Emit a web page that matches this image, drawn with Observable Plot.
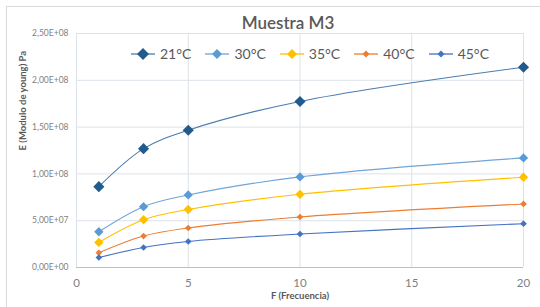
<!DOCTYPE html>
<html>
<head>
<meta charset="utf-8">
<script src="https://cdn.jsdelivr.net/npm/d3@7"></script>
<script src="https://cdn.jsdelivr.net/npm/@observablehq/plot@0.6"></script>
<style>
  html, body { margin: 0; padding: 0; background: #fff; }
  #wrap { position: relative; width: 540px; height: 307px; overflow: hidden; font-family: Lato, "Open Sans", sans-serif; }
  #frame { position: absolute; left: 6px; top: 6px; width: 540px; height: 310px; border: 1px solid #d9d9d9; box-sizing: border-box; }
  #title { position: absolute; top: 12px; left: 0; width: 576px; text-align: center; font-size: 17px; font-weight: 600; color: #595959; }
  #legend { position: absolute; top: 45px; left: 131px; display: flex; align-items: center; font-size: 14px; color: #595959; }
  #legend .item { display: flex; align-items: center; margin-right: 14px; }
  #legend svg { margin-right: 5px; }
  #chart { position: absolute; left: 0; top: 0; }
</style>
</head>
<body>
<div id="wrap">
  <div id="frame"></div>
  <div id="chart"></div>
  <div id="title">Muestra M3</div>
  <div id="legend"></div>
</div>
<script>
const frequencies = [1, 3, 5, 10, 20];
const seriesNames = ["21°C", "30°C", "35°C", "40°C", "45°C"];
const s21 = [8.64e7, 1.27e8, 1.467e8, 1.774e8, 2.14e8];
const s30 = [3.82e7, 6.5e7, 7.75e7, 9.68e7, 1.171e8];
const s35 = [2.68e7, 5.1e7, 6.2e7, 7.82e7, 9.64e7];
const s40 = [1.57e7, 3.36e7, 4.22e7, 5.4e7, 6.79e7];
const s45 = [1.07e7, 2.14e7, 2.78e7, 3.58e7, 4.68e7];
const yTicks = [0, 5e7, 1e8, 1.5e8, 2e8, 2.5e8];
const yTickLabels = ["0,00E+00", "5,00E+07", "1,00E+08", "1,50E+08", "2,00E+08", "2,50E+08"];
const xTicks = [0, 5, 10, 15, 20];
const lineColors = ["#4a7cb0", "#6fa5d8", "#ffc000", "#ed7d31", "#4472c4"];
const markerColors = ["#215a8c", "#5b9bd5", "#ffc000", "#ed7d31", "#4472c4"];
const markerR = [5, 4.2, 4.2, 3, 3];

const allSeries = [s21, s30, s35, s40, s45];
const data = [];
allSeries.forEach((vals, si) => {
  vals.forEach((v, i) => data.push({series: seriesNames[si], f: frequencies[i], E: v, si}));
});

const marks = [
  Plot.gridX(xTicks, {stroke: "#dde3ea", strokeOpacity: 1}),
  Plot.gridY(yTicks, {stroke: "#dde3ea", strokeOpacity: 1}),
  Plot.ruleY([0], {stroke: "#bfbfbf"}),
  Plot.axisY(yTicks, {tickSize: 0, tickPadding: 8, tickFormat: (d) => yTickLabels[yTicks.indexOf(d)], fontSize: 8.5, fill: "#7f7f7f", label: null}),
  Plot.axisX(xTicks, {tickSize: 0, tickPadding: 11, fontSize: 11.5, fill: "#7f7f7f", label: null}),
  Plot.text(["E (Modulo de young) Pa"], {frameAnchor: "left", rotate: -90, dx: -54, fontWeight: "bold", fontSize: 9.5, fill: "#595959"}),
  Plot.text(["F (Frecuencia)"], {frameAnchor: "bottom", dy: 31.5, fontWeight: "bold", fontSize: 9.5, fill: "#595959"})
];
seriesNames.forEach((name, si) => {
  const d = data.filter(r => r.si === si);
  marks.push(Plot.line(d, {x: "f", y: "E", stroke: lineColors[si], strokeWidth: 1.1, curve: "catmull-rom"}));
  marks.push(Plot.dot(d, {x: "f", y: "E", symbol: "diamond2", r: markerR[si], fill: markerColors[si], stroke: "none"}));
});

const chart = Plot.plot({
  width: 540,
  height: 307,
  marginLeft: 76,
  marginRight: 17,
  marginTop: 33,
  marginBottom: 40,
  style: {background: "transparent", fontFamily: "Lato, 'Open Sans', sans-serif"},
  x: {domain: [0, 20]},
  y: {domain: [0, 2.5e8]},
  marks
});
document.getElementById("chart").appendChild(chart);

// legend
const legend = document.getElementById("legend");
const legendMarker = [6, 5, 5, 3.5, 3.5];
seriesNames.forEach((name, si) => {
  const item = document.createElement("div");
  item.className = "item";
  const h = legendMarker[si];
  item.innerHTML = `<svg width="24" height="14"><line x1="0" x2="24" y1="7" y2="7" stroke="${lineColors[si]}" stroke-width="1.3"/><path d="M12 ${7-h} L${12+h} 7 L12 ${7+h} L${12-h} 7 Z" fill="${markerColors[si]}"/></svg><span>${name}</span>`;
  legend.appendChild(item);
});
</script>
</body>
</html>
